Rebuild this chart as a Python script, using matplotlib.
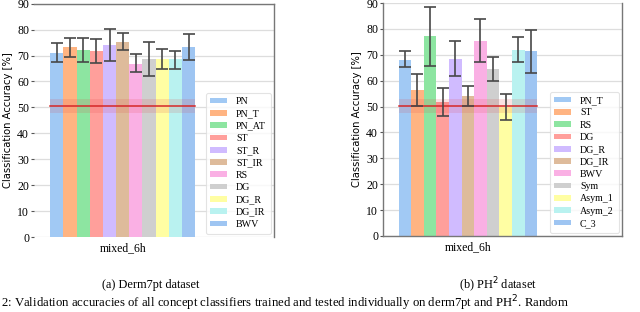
import matplotlib
matplotlib.use('Agg')
import matplotlib.pyplot as plt
import numpy as np

# Derm7pt
derm_labels = ['PN', 'PN_T', 'PN_AT', 'ST', 'ST_R', 'ST_IR', 'RS', 'DG', 'DG_R', 'DG_IR', 'BWV']
derm_mean = [71.1, 73.4, 72.1, 71.6, 74.2, 75.4, 66.8, 68.8, 68.5, 68.5, 73.3]
derm_lo = [67.6, 69.4, 67.7, 67.2, 67.9, 72.0, 63.5, 62.1, 64.8, 65.0, 68.4]
derm_hi = [74.8, 76.7, 76.7, 76.2, 80.2, 78.7, 70.7, 75.2, 72.6, 71.9, 78.5]
derm_base = 50.4
derm_band = (47.8, 53.1)

# PH2
ph2_labels = ['PN_T', 'ST', 'RS', 'DG', 'DG_R', 'DG_IR', 'BWV', 'Sym', 'Asym_1', 'Asym_2', 'C_3']
ph2_mean = [68.1, 56.4, 77.1, 51.8, 68.5, 54.1, 75.3, 64.5, 50.0, 72.0, 71.3]
ph2_lo = [65.3, 50.1, 65.8, 46.3, 61.8, 50.1, 67.2, 60.0, 45.0, 67.1, 63.0]
ph2_hi = [71.3, 62.7, 88.4, 57.2, 75.3, 58.1, 83.7, 69.0, 54.9, 76.9, 79.7]
ph2_base = 50.4
ph2_band = (47.7, 52.8)

pastel = ['#a1c9f4', '#ffb482', '#8de5a1', '#ff9f9b', '#d0bbff', '#debb9b',
          '#fab0e4', '#cfcfcf', '#fffea3', '#b9f2f0', '#9ec5f2']

SERIF = ['Liberation Serif', 'DejaVu Serif']
W, H = 640, 312


def draw_panel(ax, labels, mean, lo, hi, base, band, xlim):
    n = len(labels)
    w = 0.8 / n
    xs = -0.4 + w / 2 + np.arange(n) * w
    mean = np.array(mean)
    yerr = [mean - np.array(lo), np.array(hi) - mean]
    for i in range(n):
        ax.bar(xs[i], mean[i], w, color=pastel[i], label=labels[i], zorder=2)
    ax.errorbar(xs, mean, yerr=yerr, fmt='none', ecolor='#484848', elinewidth=1.2,
                capsize=4.3, capthick=1.2, zorder=4)
    ax.fill_between([-0.4, 0.4], band[0], band[1], color='#e04040', alpha=0.15,
                    lw=0, zorder=3)
    ax.plot([-0.4, 0.4], [base, base], color='#d62728', lw=1.1, zorder=3)
    ax.set_xlim(*xlim)
    ax.set_ylim(0, 90)
    ax.set_yticks(range(0, 91, 10))
    ax.set_xticks([0])
    ax.set_xticklabels(['mixed_6h'], fontfamily=SERIF, fontsize=8.5)
    for t in ax.get_yticklabels():
        t.set_fontfamily(SERIF)
        t.set_fontsize(8.5)
    ax.tick_params(axis='y', length=2, width=0.8, color='#555555', pad=1.5)
    ax.tick_params(axis='x', length=0, pad=4)
    ax.yaxis.grid(True, color='#dddddd', lw=0.9, zorder=0)
    ax.set_axisbelow(True)
    ax.set_ylabel('Classification Accuracy [%]', fontsize=7.2, fontfamily='DejaVu Sans',
                  labelpad=3)
    leg = ax.legend(loc='lower right', prop={'family': SERIF, 'size': 7.2},
                    handlelength=1.7, handleheight=0.5, labelspacing=0.33,
                    borderaxespad=0.35, frameon=True, fancybox=True,
                    handletextpad=0.9, borderpad=0.45)
    leg.get_frame().set_edgecolor('#dddddd')
    leg.get_frame().set_linewidth(0.8)
    for s in ax.spines.values():
        s.set_color('#777777')
        s.set_linewidth(1.0)


fig = plt.figure(figsize=(W / 100, H / 100), dpi=100)

ax1 = fig.add_axes([34 / W, (H - 237) / H, (274 - 34) / W, (237 - 3.7) / H])
draw_panel(ax1, derm_labels, derm_mean, derm_lo, derm_hi, derm_base, derm_band, (-0.49, 0.836))
ax1.spines['left'].set_visible(False)
ax1.spines['bottom'].set_visible(False)

ax2 = fig.add_axes([383 / W, (H - 236) / H, (622 - 383) / W, (236 - 3) / H])
draw_panel(ax2, ph2_labels, ph2_mean, ph2_lo, ph2_hi, ph2_base, ph2_band, (-0.49, 0.89))
ax2.spines['top'].set_visible(False)

fig.text(151 / W, 1 - 285 / H, '(a) Derm7pt dataset', ha='center', va='center',
         fontfamily=SERIF, fontsize=8.8)
fig.text(498 / W, 1 - 285 / H, '(b) PH$^2$ dataset', ha='center', va='center',
         fontfamily=SERIF, fontsize=8.8)
fig.text(0.002, 1 - 303.5 / H,
         '2: Validation accuracies of all concept classifiers trained and tested '
         'individually on derm7pt and PH$^2$. Random',
         ha='left', va='center', fontfamily=SERIF, fontsize=9.2)

fig.savefig('out.png', dpi=100)
